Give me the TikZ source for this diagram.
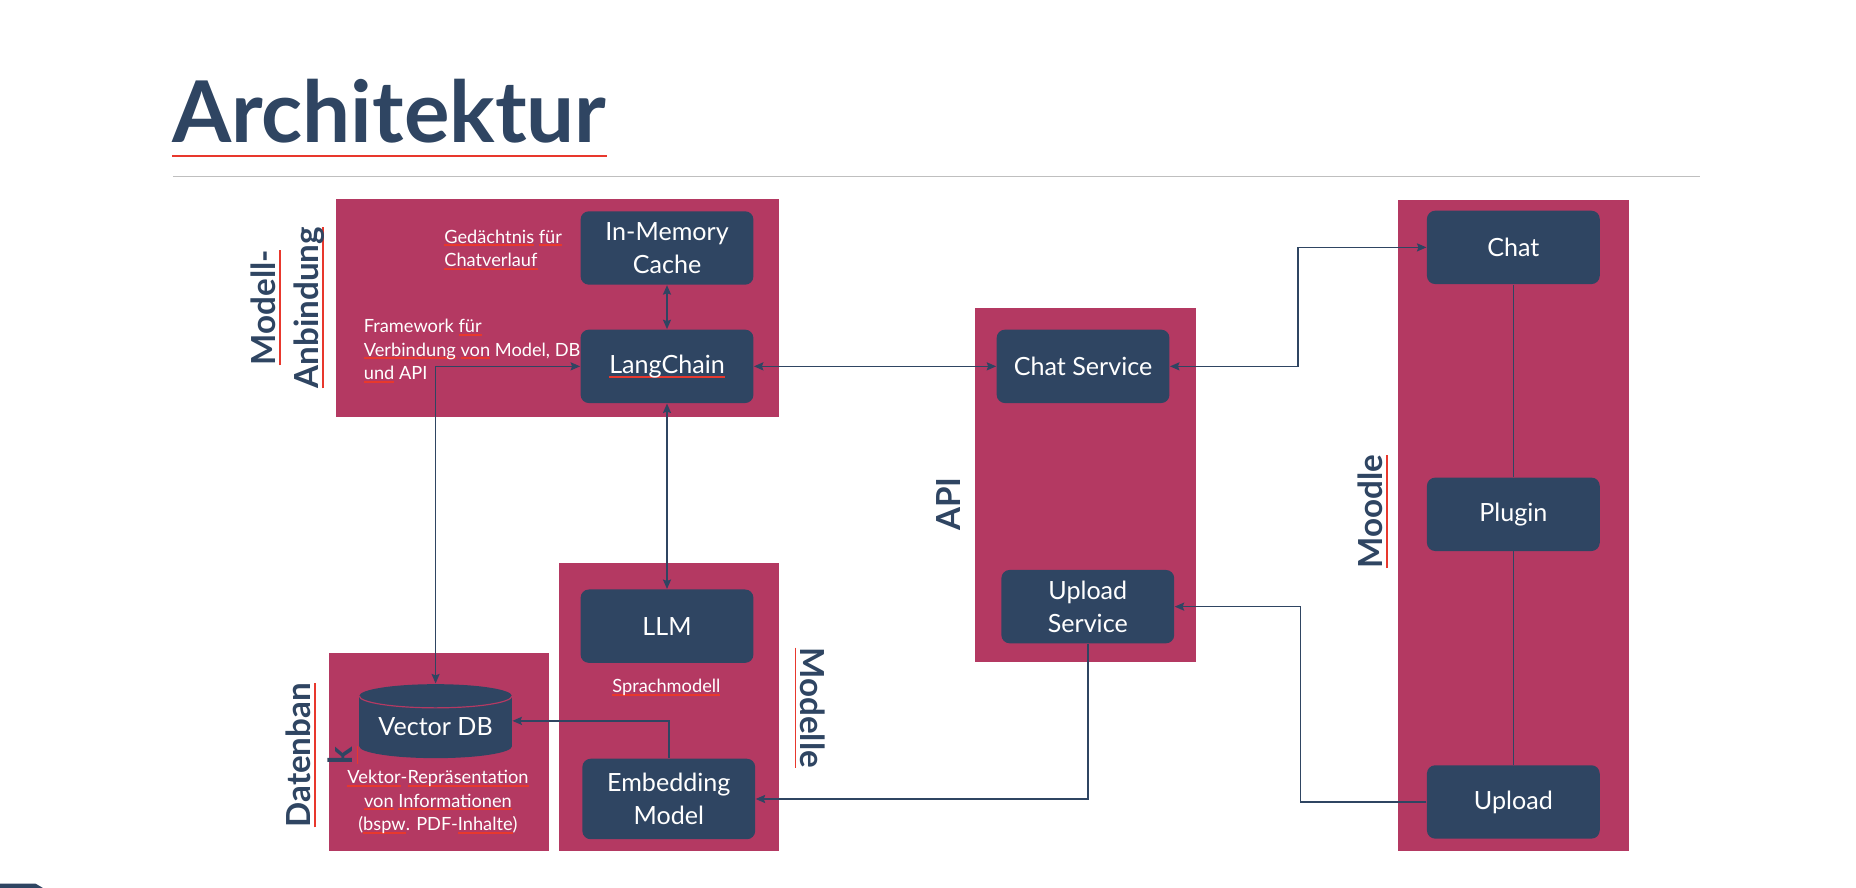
\documentclass[tikz,border=0pt]{standalone}
\usepackage{fontspec}
\setmainfont{Lato}
\usetikzlibrary{arrows.meta,calc}

\definecolor{rasp}{RGB}{180,57,98}
\definecolor{navy}{RGB}{47,69,98}
\definecolor{ulred}{RGB}{232,56,45}
\definecolor{rulegray}{RGB}{191,191,191}

\newsavebox\ulbox
\newcommand\redul[1]{\sbox\ulbox{#1}\leavevmode\rlap{\textcolor{ulred}{\rule[-0.17em]{\wd\ulbox}{0.8pt}}}\usebox\ulbox}

\tikzset{
	grp/.style={fill=rasp},
	box/.style={fill=navy, text=white, rounded corners=3.5pt, minimum width=73pt, minimum height=31pt, inner sep=0pt, align=center, font=\fontsize{10.6}{13.8}\selectfont},
	note/.style={text=white, inner sep=0pt, font=\fontsize{7.7}{9.9}\selectfont},
	tag/.style={text=navy, inner sep=0pt, align=center, font=\bfseries\fontsize{14}{18}\selectfont},
	link/.style={navy, line width=0.65pt, >={Stealth[length=4pt,width=3.4pt,inset=0.6pt]}},
}

\begin{document}
\begin{tikzpicture}[x=0.5pt, y=-0.5pt]
	\useasboundingbox (0,0) rectangle (1568,750);

	\node[anchor=base west, inner sep=0pt, text=navy, font=\bfseries\fontsize{36}{40}\selectfont] (title) at (145,120) {\redul{Architektur}};
	\draw[rulegray, line width=0.7pt] (146,149) -- (1436,149);

	\fill[grp] (284,168) rectangle (658,352);
	\fill[grp] (472,476) rectangle (658,719);
	\fill[grp] (278,552) rectangle (464,719);
	\fill[grp] (824,260) rectangle (1010,559);
	\fill[grp] (1181,169) rectangle (1376,719);

	\node[tag, rotate=90] (lblma) at (243,260) {\redul{Modell-}\\\redul{Anbindung}};
	\node[tag, rotate=90] (lbldb) at (272,638) {\redul{Datenban}\\\redul{k}};
	\node[tag, rotate=-90] (lblmo) at (684,598) {\redul{Modelle}};
	\node[tag, rotate=90] (lblapi) at (801,426) {API};
	\node[tag, rotate=90] (lblml) at (1160,432) {\redul{Moodle}};

	\node[box] (cache) at (563.5,209.5) {In-Memory\\Cache};
	\node[box] (lang) at (563.5,309.5) {\redul{LangChain}};
	\node[box] (llm) at (563.5,529) {LLM};
	\node[box, minimum height=34pt] (embed) at (565,675) {Embedding\\Model};
	\node[box] (chatsvc) at (915,309.5) {Chat Service};
	\node[box] (upsvc) at (919,512.5) {Upload\\Service};
	\node[box] (chat) at (1278.5,209) {Chat};
	\node[box] (plugin) at (1278.5,434.5) {Plugin};
	\node[box] (upload) at (1278.5,677.5) {Upload};

	\coordinate (vdbc) at (368,609);
	\fill[navy] ($(vdbc)+(-64.5,-21)$) arc[start angle=180, end angle=360, x radius=64.5, y radius=10] -- ($(vdbc)+(64.5,21.5)$) arc[start angle=0, end angle=180, x radius=64.5, y radius=10] -- cycle;
	\draw[rasp, line width=0.5pt] ($(vdbc)+(-64.5,-21)$) arc[start angle=180, end angle=0, x radius=64.5, y radius=10];
	\node[inner sep=0pt, minimum width=64.5pt, minimum height=31.25pt, text=white, font=\fontsize{10.6}{13.8}\selectfont] (vdb) at (vdbc) {\raisebox{-6.2pt}[0pt][0pt]{Vector DB}};

	\node[note, anchor=west, align=left] (memnote) at (375,211) {\redul{Gedächtnis} \redul{für}\\\redul{Chatverlauf}};
	\node[note, anchor=west, align=left] (lcnote) at (307,296.5) {Framework \redul{für}\\\redul{Verbindung} \redul{von} Model, DB\\\redul{und} API};
	\node[note] (llmnote) at (563,581) {\redul{Sprachmodell}};
	\node[note, align=center] (dbnote) at (370,677.5) {\redul{Vektor}-\redul{Repräsentation}\\\redul{von} \redul{Informationen}\\(\redul{bspw}. PDF-\redul{Inhalte})};

	\draw[link, <->] (cache) -- (lang);
	\draw[link, <->] (lang) -- (llm);
	\draw[link, <->] (lang) -- (chatsvc);
	\coordinate (cmid) at ($(chatsvc.east)!0.5!(chat.west)$);
	\draw[link, <->] (chatsvc.east) -| (cmid) |- (chat.west);
	\draw[link, <->] (vdb.north) |- (lang.west);
	\draw[link, ->] (embed.north) |- (vdb.east);
	\draw[link, ->] (upsvc.south) |- (embed.east);
	\coordinate (umid) at ($(upload.west)!0.5!(upsvc.east)$);
	\draw[link, ->] (upload.west) -| (umid) |- (upsvc.east);
	\draw[link] (chat) -- (plugin) -- (upload);

	\fill[navy] (0,750) -- (0,746.5) -- (30,746.5) -- (36,750) -- cycle;
\end{tikzpicture}
\end{document}
